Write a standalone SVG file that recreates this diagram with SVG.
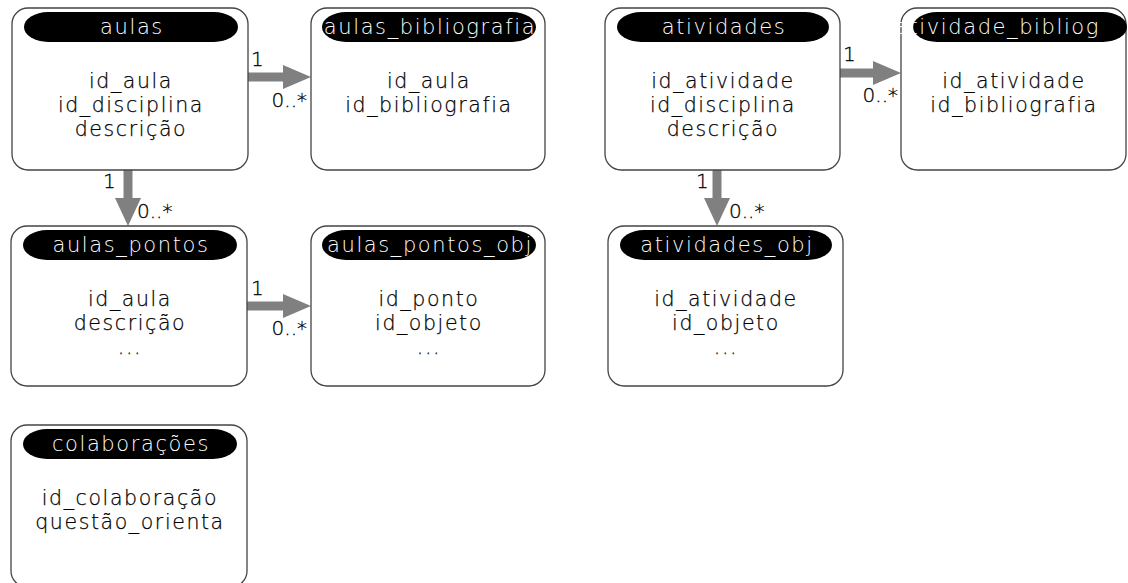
<svg xmlns="http://www.w3.org/2000/svg" width="1128" height="583" viewBox="0 0 1128 583">
<style>
.box{fill:#fff;stroke:#444;stroke-width:1.3}
.pill{fill:#000}
.hd{font-family:"DejaVu Sans",sans-serif;font-weight:200;font-size:21px;letter-spacing:1.6px;fill:#fff;text-anchor:middle}
.bd{font-family:"DejaVu Sans",sans-serif;font-weight:200;font-size:20.5px;letter-spacing:1.6px;fill:#000;stroke:#000;stroke-width:0.25;text-anchor:middle}
.lb{font-family:"DejaVu Sans",sans-serif;font-weight:200;font-size:20px;fill:#000;stroke:#000;stroke-width:0.3}
.shaft{stroke:#808080;stroke-width:9;fill:none}
.head{fill:#808080}
</style>
<rect width="1128" height="583" fill="#fff"/>
<g id="connectors">
  <line class="shaft" x1="248" y1="77" x2="285" y2="77"/>
  <polygon class="head" points="283,65 311,77 283,89"/>
  <text class="lb" x="251" y="66">1</text>
  <text class="lb" x="307" y="107" text-anchor="end">0..*</text>

  <line class="shaft" x1="840" y1="73" x2="875" y2="73"/>
  <polygon class="head" points="873,61 901,73 873,85"/>
  <text class="lb" x="843" y="61">1</text>
  <text class="lb" x="898" y="102" text-anchor="end">0..*</text>

  <line class="shaft" x1="128" y1="170" x2="128" y2="200"/>
  <polygon class="head" points="115,198 128,226 141,198"/>
  <text class="lb" x="103" y="188">1</text>
  <text class="lb" x="137" y="218">0..*</text>

  <line class="shaft" x1="717" y1="170" x2="717" y2="200"/>
  <polygon class="head" points="704,198 717,226 730,198"/>
  <text class="lb" x="696" y="188">1</text>
  <text class="lb" x="729" y="218">0..*</text>

  <line class="shaft" x1="247" y1="306" x2="285" y2="306"/>
  <polygon class="head" points="283,294 311,306 283,318"/>
  <text class="lb" x="251" y="295">1</text>
  <text class="lb" x="307" y="335" text-anchor="end">0..*</text>
</g>
<g id="aulas">
  <rect class="box" x="12" y="8" width="236" height="162" rx="16"/>
  <rect class="pill" x="24" y="12" width="214" height="30" rx="24" ry="15"/>
  <text class="hd" x="132" y="34">aulas</text>
  <text class="bd" x="131" y="88">id_aula</text>
  <text class="bd" x="131" y="112">id_disciplina</text>
  <text class="bd" x="131" y="136">descrição</text>
</g>
<g id="aulas_bibliografia">
  <rect class="box" x="311" y="8" width="234" height="162" rx="16"/>
  <rect class="pill" x="322" y="12" width="214" height="30" rx="24" ry="15"/>
  <text class="hd" x="430" y="34">aulas_bibliografia</text>
  <text class="bd" x="429" y="88">id_aula</text>
  <text class="bd" x="429" y="112">id_bibliografia</text>
</g>
<g id="atividades">
  <rect class="box" x="605" y="8" width="235" height="162" rx="16"/>
  <rect class="pill" x="617" y="12" width="212" height="30" rx="24" ry="15"/>
  <text class="hd" x="724" y="34">atividades</text>
  <text class="bd" x="723" y="88">id_atividade</text>
  <text class="bd" x="723" y="112">id_disciplina</text>
  <text class="bd" x="723" y="136">descrição</text>
</g>
<g id="atividade_bibliog">
  <rect class="box" x="901" y="8" width="225" height="162" rx="16"/>
  <rect class="pill" x="913" y="12" width="214" height="30" rx="24" ry="15"/>
  <text class="hd" x="1100" y="34" style="text-anchor:end">atividade_bibliog</text>
  <text class="bd" x="1014" y="88">id_atividade</text>
  <text class="bd" x="1014" y="112">id_bibliografia</text>
</g>
<g id="aulas_pontos">
  <rect class="box" x="11" y="226" width="236" height="160" rx="16"/>
  <rect class="pill" x="23" y="230" width="214" height="30" rx="24" ry="15"/>
  <text class="hd" x="131" y="252">aulas_pontos</text>
  <text class="bd" x="130" y="306">id_aula</text>
  <text class="bd" x="130" y="330">descrição</text>
  <text class="bd" x="130" y="354">...</text>
</g>
<g id="aulas_pontos_obj">
  <rect class="box" x="311" y="226" width="234" height="160" rx="16"/>
  <rect class="pill" x="322" y="230" width="214" height="30" rx="24" ry="15"/>
  <text class="hd" x="430" y="252">aulas_pontos_obj</text>
  <text class="bd" x="429" y="306">id_ponto</text>
  <text class="bd" x="429" y="330">id_objeto</text>
  <text class="bd" x="429" y="354">...</text>
</g>
<g id="atividades_obj">
  <rect class="box" x="608" y="226" width="235" height="160" rx="16"/>
  <rect class="pill" x="620" y="230" width="212" height="30" rx="24" ry="15"/>
  <text class="hd" x="727" y="252">atividades_obj</text>
  <text class="bd" x="726" y="306">id_atividade</text>
  <text class="bd" x="726" y="330">id_objeto</text>
  <text class="bd" x="726" y="354">...</text>
</g>
<g id="colaboracoes">
  <rect class="box" x="11" y="425" width="236" height="162" rx="16"/>
  <rect class="pill" x="23" y="429" width="214" height="30" rx="24" ry="15"/>
  <text class="hd" x="131" y="451">colaborações</text>
  <text class="bd" x="130" y="505">id_colaboração</text>
  <text class="bd" x="130" y="529">questão_orienta</text>
</g>
</svg>
